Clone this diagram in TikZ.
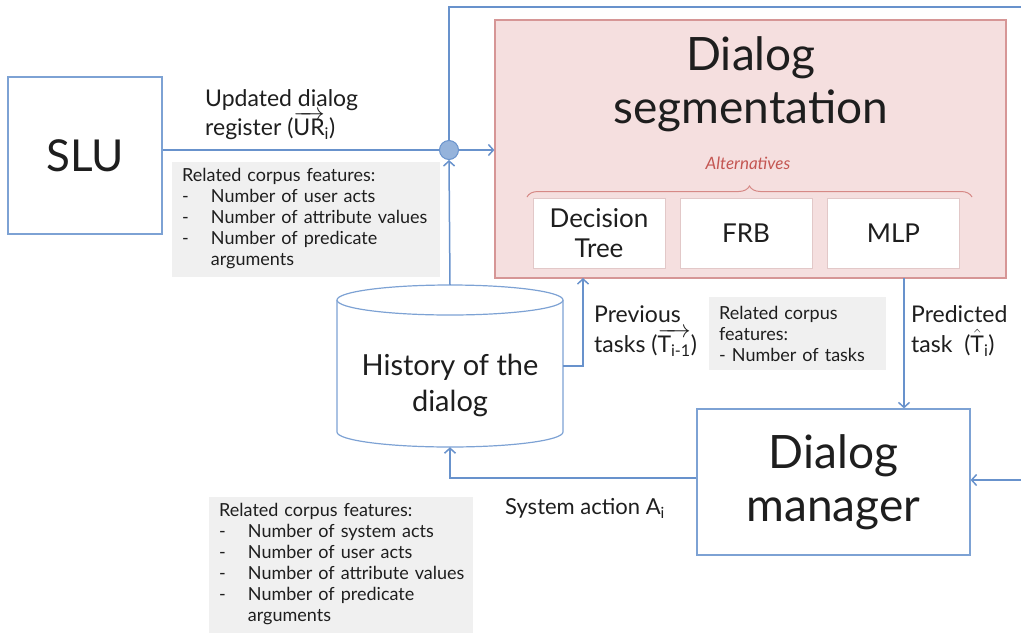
\documentclass[tikz,border=0pt]{standalone}
\usepackage{fontspec}
\setmainfont{Lato}
\usetikzlibrary{arrows.meta,decorations.pathreplacing}
\definecolor{flowblue}{RGB}{104,146,204}
\definecolor{boxblue}{RGB}{125,162,212}
\definecolor{notegray}{RGB}{240,240,240}
\definecolor{segfill}{RGB}{245,223,223}
\definecolor{segdraw}{RGB}{214,150,150}
\definecolor{altred}{RGB}{196,86,82}
\definecolor{algdraw}{RGB}{226,200,200}
\definecolor{ink}{RGB}{30,30,30}
\tikzstyle{line} = [draw=flowblue, line width=1.5pt, -{Straight Barb[length=5pt,width=11pt]}]
\tikzstyle{plain} = [draw=flowblue, line width=1.5pt]
\tikzstyle{block} = [draw=boxblue, line width=1.2pt, fill=white, inner sep=0pt, text=ink]
\tikzstyle{alg} = [draw=algdraw, line width=1pt, fill=white, minimum width=132pt, minimum height=70pt, inner sep=0pt, align=center, text=ink, font=\fontsize{26}{30}\selectfont]
\tikzstyle{note} = [fill=notegray, anchor=north west, inner xsep=10pt, inner ysep=0pt, align=left, text=ink, font=\fontsize{18}{21}\selectfont]
\tikzstyle{lbl} = [anchor=west, inner sep=0pt, align=left, text=ink, font=\fontsize{23}{30}\selectfont]

\begin{document}
\begin{tikzpicture}[x=1pt,y=-1pt]
    \useasboundingbox (0,0) rectangle (1021,633);

    % Dialog segmentation with its alternatives
    \node[draw=segdraw, line width=1.2pt, fill=segfill, minimum width=511pt, minimum height=258pt, inner sep=0pt] (seg) at (750.5,149) {};
    \node[align=center, text=ink, font=\fontsize{46}{53}\selectfont] (segtitle) at (751,84) {Dialog\\segmentation};
    \node[text=altred, font=\fontsize{17}{20}\selectfont\itshape] (alt) at (748,163) {Alternatives};
    \draw[altred!70, line width=1pt, decorate, decoration={brace, amplitude=11pt}] (527,197) -- (972,197);
    \node[alg] (dt) at (599,233) {Decision\\Tree};
    \node[alg] (frb) at (746,233) {FRB};
    \node[alg] (mlp) at (893.5,233) {MLP};

    % SLU, manager and history
    \node[block, minimum width=154pt, minimum height=157pt, font=\fontsize{44}{50}\selectfont] (slu) at (85,155.5) {SLU};
    \node[block, minimum width=273pt, minimum height=146pt, align=center, font=\fontsize{46}{53}\selectfont] (mgr) at (833.5,482) {Dialog\\manager};
    \node[minimum width=226pt, minimum height=162pt, inner sep=0pt] (hist) at (450,366) {};
    \draw[draw=boxblue, line width=1.2pt, fill=white] (337,300) -- (337,432) arc[start angle=180, end angle=360, x radius=113pt, y radius=15pt] -- (563,300);
    \draw[draw=boxblue, line width=1.2pt, fill=white] (450,300) ellipse [x radius=113pt, y radius=15pt];
    \node[align=center, text=ink, font=\fontsize{29}{36}\selectfont] (histtext) at (450,385) {History of the\\dialog};

    % feature notes
    \node[note, text width=248pt, minimum height=115pt] (slunote) at (172,162) {%
      \begin{tabular}{@{}l@{\hspace{22pt}}l@{}}
      \multicolumn{2}{@{}l@{}}{Related corpus features:}\\
      - & Number of user acts\\
      - & Number of attribute values\\
      - & Number of predicate\\
        & arguments
      \end{tabular}};
    \node[note, text width=157pt, minimum height=73pt] (tasknote) at (709,297) {Related corpus\\features:\\- Number of tasks};
    \node[note, text width=244pt, minimum height=136pt] (actnote) at (209,497) {%
      \begin{tabular}{@{}l@{\hspace{22pt}}l@{}}
      \multicolumn{2}{@{}l@{}}{Related corpus features:}\\
      - & Number of system acts\\
      - & Number of user acts\\
      - & Number of attribute values\\
      - & Number of predicate\\
        & arguments
      \end{tabular}};

    % junction and connectors
    \node[circle, draw=flowblue, line width=1pt, fill=flowblue!70, minimum size=19pt, inner sep=0pt] (junc) at (449,150) {};
    \coordinate (topright) at (1026,7);
    \coordinate (rightin) at (1026,480);
    \coordinate (previn) at (583,278);
    \coordinate (predout) at (904,278);
    \draw[plain] (slu.east |- junc) -- (junc);
    \draw[line] (junc) -- (seg.west |- junc);
    \draw[line] (hist.north) -- (junc.south);
    \draw[line] (junc.north) |- (topright) -- (rightin) -- (mgr.east |- rightin);
    \draw[line] (hist.east) -| (previn);
    \draw[line] (predout) -- (predout |- mgr.north);
    \draw[line] (mgr.west |- 0,478) -| (hist.south);

    % labels
    \node[lbl, font=\fontsize{23}{29}\selectfont] (urlbl) at (205,115) {Updated dialog\\register (\(\overrightarrow{\mbox{UR}}\)\textsubscript{i})};
    \node[lbl] (prevlbl) at (594,331) {Previous\\tasks (\(\overrightarrow{\mbox{T\textsubscript{i-1}}}\))};
    \node[lbl] (predlbl) at (911,331) {Predicted\\task \ (\(\hat{\mbox{T}}\)\textsubscript{i})};
    \node[lbl, font=\fontsize{22}{26}\selectfont] (actlbl) at (505,508) {System action A\textsubscript{i}};
  \end{tikzpicture}
\end{document}
